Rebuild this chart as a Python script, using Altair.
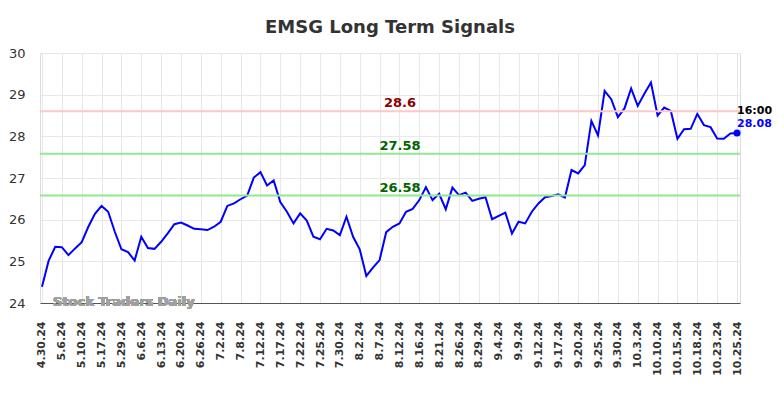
import altair as alt
import pandas as pd

values = [24.39, 25.01, 25.35, 25.34, 25.15, 25.31, 25.46, 25.83, 26.14, 26.33,
          26.19, 25.71, 25.29, 25.22, 25.02, 25.59, 25.32, 25.30, 25.47, 25.67,
          25.89, 25.93, 25.86, 25.78, 25.77, 25.75, 25.83, 25.95, 26.33, 26.39,
          26.49, 26.58, 27.01, 27.14, 26.82, 26.94, 26.42, 26.19, 25.91, 26.15,
          25.98, 25.59, 25.53, 25.78, 25.74, 25.63, 26.07, 25.59, 25.29, 24.65,
          24.85, 25.03, 25.70, 25.83, 25.91, 26.19, 26.26, 26.47, 26.78, 26.47,
          26.62, 26.25, 26.77, 26.59, 26.65, 26.45, 26.50, 26.54, 26.01, 26.09,
          26.17, 25.67, 25.95, 25.91, 26.19, 26.39, 26.54, 26.57, 26.61, 26.53,
          27.19, 27.11, 27.31, 28.37, 28.02, 29.09, 28.89, 28.46, 28.67, 29.15,
          28.73, 29.02, 29.29, 28.50, 28.69, 28.61, 27.94, 28.17, 28.18, 28.54,
          28.27, 28.22, 27.95, 27.94, 28.07, 28.08]

tick_labels = ["4.30.24", "5.6.24", "5.10.24", "5.17.24", "5.29.24", "6.6.24",
               "6.13.24", "6.20.24", "6.26.24", "7.2.24", "7.8.24", "7.12.24",
               "7.17.24", "7.22.24", "7.25.24", "7.30.24", "8.2.24", "8.7.24",
               "8.12.24", "8.16.24", "8.21.24", "8.26.24", "8.29.24", "9.4.24",
               "9.9.24", "9.12.24", "9.17.24", "9.20.24", "9.25.24", "9.30.24",
               "10.3.24", "10.10.24", "10.15.24", "10.18.24", "10.23.24", "10.25.24"]

levels = [28.6, 27.58, 26.58]
level_colors = ["#ffc8c8", "#90e890", "#90e890"]
level_text_colors = ["#8b0000", "#006400", "#006400"]
level_labels = ["28.6", "27.58", "26.58"]

last_time = "16:00"
last_value = 28.08

df = pd.DataFrame({"i": list(range(len(values))), "v": values})
lv = pd.DataFrame({"y": levels, "c": level_colors, "tc": level_text_colors, "t": level_labels})
last = pd.DataFrame({"i": [len(values) - 1], "v": [last_value], "time": [last_time], "lab": [f"{last_value:.2f}"]})

FONT = "DejaVu Sans"
label_arr = "[" + ",".join(f"'{s}'" for s in tick_labels) + "]"

x_scale = alt.Scale(domain=[-0.3, 105.45], nice=False, zero=False)
y_scale = alt.Scale(domain=[24, 30], nice=False, zero=False)

x_axis = alt.Axis(values=list(range(0, 106, 3)), labelExpr=f"{label_arr}[round(datum.value/3)]",
                  labelAngle=-90, labelAlign="right", labelBaseline="middle",
                  labelPadding=18, ticks=False, grid=True, gridColor="#e8e8e8",
                  domainColor="#555555", domainWidth=1.2, labelFont=FONT, labelFontSize=11,
                  labelFontWeight="bold", labelColor="#333333", title=None, labelOverlap=False)
y_axis = alt.Axis(values=[24, 25, 26, 27, 28, 29, 30], ticks=False, domain=False, grid=True,
                  gridColor="#e8e8e8", labelFont=FONT, labelFontSize=13, labelColor="#333333",
                  labelPadding=15, title=None)

X = alt.X("i:Q", scale=x_scale, axis=x_axis)
Y = alt.Y("v:Q", scale=y_scale, axis=y_axis)

line = alt.Chart(df).mark_line(color="#0000ff", strokeWidth=2).encode(x=X, y=Y)

rules = alt.Chart(lv).mark_rule(strokeWidth=2).encode(
    y=alt.Y("y:Q", scale=y_scale, axis=y_axis),
    color=alt.Color("c:N", scale=None),
)

rule_text = alt.Chart(lv).mark_text(font=FONT, fontSize=13, fontWeight="bold", dy=-8).encode(
    x=alt.value(360),
    y=alt.Y("y:Q", scale=y_scale, axis=y_axis),
    text="t:N",
    color=alt.Color("tc:N", scale=None),
)

watermark = alt.Chart(df).mark_text(font=FONT, fontSize=13, fontWeight="bold", color="#a0a0a0",
                                    align="left", baseline="middle").encode(
    x=alt.value(13), y=alt.value(249), text=alt.value("Stock Traders Daily"))

dot = alt.Chart(last).mark_circle(color="#0000ff", size=50, opacity=1).encode(x=X, y=Y)

t1 = alt.Chart(last).mark_text(font=FONT, fontSize=11, fontWeight="bold", color="#000000",
                               align="left", dx=0, dy=-22).encode(x=X, y=Y, text="time:N")
t2 = alt.Chart(last).mark_text(font=FONT, fontSize=11, fontWeight="bold", color="#0000ff",
                               align="left", dx=0, dy=-9).encode(x=X, y=Y, text="lab:N")

chart = alt.layer(line, rules, rule_text, watermark, dot, t1, t2).properties(
    width=700, height=250,
    title=alt.TitleParams("EMSG Long Term Signals", font=FONT, fontSize=18, fontWeight="bold",
                          color="#333333", anchor="middle", offset=10),
    autosize=alt.AutoSizeParams(type="none"),
    padding={"left": 32, "top": 45, "right": 36, "bottom": 87},
).configure_view(stroke=None).configure(background="white")

chart.save("out.html", embed_options={"renderer": "svg", "actions": False})
